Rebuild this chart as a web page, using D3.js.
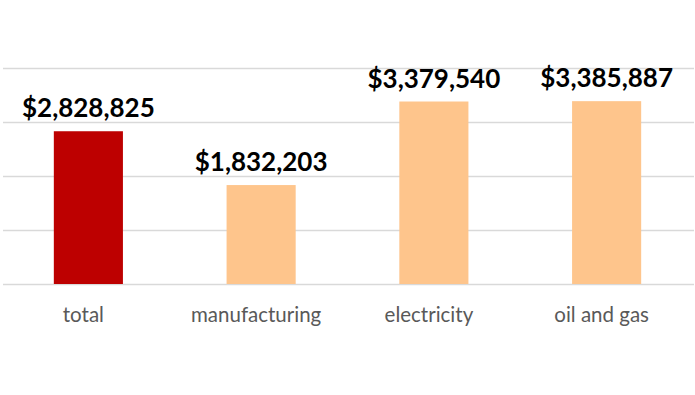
<!DOCTYPE html>
<html>
<head>
<meta charset="utf-8">
<script src="https://cdn.jsdelivr.net/npm/d3@7"></script>
<style>
  body { margin: 0; background: #fff; }
</style>
</head>
<body>
<div id="grafico"></div>
<script>
// dados do gráfico
const categorias = ["total", "manufacturing", "electricity", "oil and gas"];
const valores = [2828825, 1832203, 3379540, 3385887];
const cores = ["#bd0000", "#fec58c", "#fec58c", "#fec58c"];
const ticksY = [0, 1000000, 2000000, 3000000, 4000000];

const width = 695;
const height = 395;

const svg = d3.select("#grafico")
    .append("svg")
    .attr("width", width)
    .attr("height", height);

const x = d3.scaleBand()
    .domain(categorias)
    .range([2, 693])
    .paddingInner(0.6)
    .paddingOuter(0.3);

const y = d3.scaleLinear()
    .domain([0, 4000000])
    .range([284, 68]);

// linhas de grade
svg.append("g")
    .selectAll("line")
    .data(ticksY)
    .enter()
    .append("line")
    .attr("x1", 3)
    .attr("x2", 694)
    .attr("y1", d => Math.round(y(d)) + 0.5)
    .attr("y2", d => Math.round(y(d)) + 0.5)
    .attr("stroke", "#d9d9d9")
    .attr("stroke-width", 1.3);

// barras
svg.append("g")
    .selectAll("rect")
    .data(valores)
    .enter()
    .append("rect")
    .attr("x", (d, i) => x(categorias[i]))
    .attr("y", d => y(d))
    .attr("width", x.bandwidth())
    .attr("height", d => y(0) - y(d))
    .attr("fill", (d, i) => cores[i]);

// rótulos de valor
const formato = d3.format("$,.0f");
svg.append("g")
    .selectAll("text")
    .data(valores)
    .enter()
    .append("text")
    .attr("x", (d, i) => x(categorias[i]) + x.bandwidth() / 2)
    .attr("y", d => y(d) - 14)
    .attr("text-anchor", "middle")
    .style("font-family", "Lato, 'Open Sans', sans-serif")
    .style("font-weight", "bold")
    .style("font-size", "26px")
    .style("fill", "#000")
    .text(d => formato(d));

// eixo x (só os rótulos)
const eixoX = svg.append("g")
    .attr("transform", "translate(0,284)")
    .call(d3.axisBottom(x).tickSize(0).tickPadding(0));
eixoX.select(".domain").remove();
eixoX.selectAll("text")
    .attr("dy", "0")
    .attr("y", 38)
    .attr("x", -5)
    .style("font-family", "Lato, 'Open Sans', sans-serif")
    .style("font-size", "20.5px")
    .style("fill", "#595959");
</script>
</body>
</html>
